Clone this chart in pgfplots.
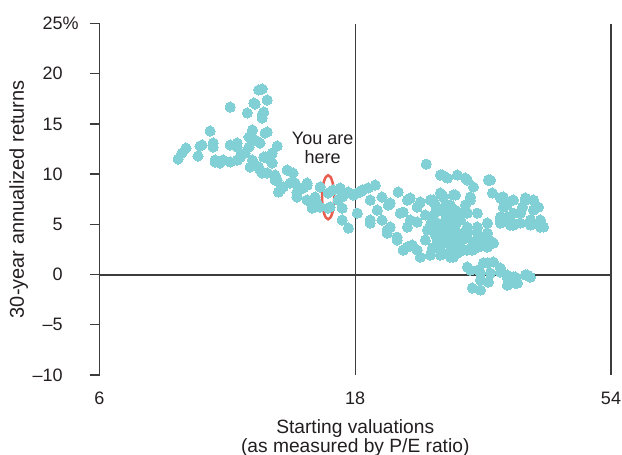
\documentclass[border=0pt]{standalone}
\usepackage{fontspec}
\setmainfont{Liberation Sans}
\usepackage{pgfplots}
\pgfplotsset{compat=1.18}
\definecolor{dotcol}{RGB}{128,208,214}
\definecolor{ringcol}{RGB}{232,94,80}
\definecolor{axiscol}{RGB}{60,60,60}
\definecolor{txtcol}{RGB}{35,31,32}
\newcommand\xlabfont{\fontsize{9.6}{9.1}\selectfont\lineskiplimit=-20pt\relax}

% P/E ratio vs 30-year annualized return (%)
\pgfplotstableread{
pe ret
8.41 11.50
8.55 12.10
8.70 12.60
9.16 11.80
9.24 12.80
9.32 12.90
9.65 14.29
9.78 12.70
9.78 13.10
9.86 11.21
9.86 11.40
10.07 11.11
10.21 11.40
10.52 16.68
10.52 12.90
10.52 11.21
10.84 12.70
10.84 13.10
10.84 11.40
10.98 11.70
11.22 12.10
11.32 16.09
11.40 12.70
11.40 13.70
11.57 14.39
11.46 10.71
11.64 17.08
11.57 11.40
11.71 16.98
11.71 13.40
11.89 18.38
12.07 18.48
11.89 10.71
11.96 13.10
11.96 10.41
12.07 15.89
12.07 15.59
12.15 16.18
12.07 10.11
12.15 11.70
12.22 14.09
12.22 11.70
12.33 17.38
12.33 14.19
12.33 10.11
12.49 11.40
12.49 11.70
12.60 12.10
12.60 11.11
12.76 9.41
12.76 9.91
12.87 12.80
12.87 9.41
12.95 8.22
13.04 8.42
13.21 8.72
13.44 10.41
13.61 9.11
13.78 10.11
13.90 9.11
14.02 8.22
14.02 7.72
14.39 8.62
14.64 8.91
14.64 7.42
14.64 9.11
14.96 6.62
15.15 7.72
15.28 7.12
15.48 8.72
15.48 6.72
16.02 8.12
16.02 6.62
16.16 6.72
16.37 8.42
16.73 7.42
16.87 8.42
16.87 8.62
17.02 7.72
17.02 6.62
17.02 5.43
17.39 8.12
17.47 8.22
17.47 4.63
17.85 7.92
18.16 8.12
18.16 6.12
18.39 8.22
18.56 8.42
19.04 8.62
19.20 7.42
19.20 5.43
19.20 5.13
19.62 8.91
19.79 6.42
20.19 7.72
20.19 5.43
20.65 4.43
20.65 4.13
20.74 6.92
20.92 7.12
20.92 4.73
21.55 3.73
21.55 3.44
21.65 8.22
21.84 6.12
22.12 6.22
22.12 2.44
22.51 7.42
22.51 4.73
22.51 2.74
22.80 7.62
22.80 5.43
23.00 2.94
23.49 6.72
23.49 5.23
23.49 2.44
23.80 7.22
23.80 1.74
24.42 11.00
24.53 4.43
24.85 7.42
24.85 1.94
25.17 7.42
25.61 5.13
25.61 3.44
25.61 4.73
25.61 2.74
25.94 9.91
25.94 6.42
25.94 8.12
25.94 1.94
26.17 9.91
26.17 7.92
26.17 3.73
26.28 7.72
26.28 2.14
26.74 9.61
26.74 4.13
26.74 3.14
27.08 5.73
27.08 2.24
27.08 1.74
27.44 7.92
27.44 4.13
27.44 1.74
27.67 7.92
27.91 9.91
27.91 4.13
27.91 2.14
28.27 6.12
28.27 5.43
28.27 2.44
28.63 4.13
28.63 2.44
28.88 9.61
29.13 9.41
29.13 6.12
29.13 4.73
29.13 4.43
29.13 3.73
29.13 2.44
29.13 0.75
29.51 7.72
29.51 7.42
29.51 0.45
29.76 -1.34
29.89 8.72
29.89 3.14
30.41 6.12
30.41 4.73
30.41 4.13
30.54 0.45
30.81 3.73
30.81 0.15
30.81 -0.55
30.81 -1.54
31.21 3.73
31.21 3.14
31.21 1.15
31.75 5.13
31.75 4.13
31.75 2.74
31.75 1.15
31.89 9.41
31.89 -0.75
32.16 9.41
32.16 0.15
32.44 8.12
32.44 3.24
32.58 3.14
32.58 1.25
33.57 7.62
33.57 5.73
33.57 5.43
33.57 5.13
33.57 0.65
33.57 0.25
34.00 6.72
34.00 7.72
34.58 6.92
34.58 5.73
34.58 -0.05
34.58 -0.25
34.58 -1.05
35.05 5.43
35.05 4.93
35.50 7.42
35.50 6.12
35.50 4.93
35.50 -0.25
35.81 -0.25
35.81 -0.85
36.12 -0.85
36.59 6.12
36.59 5.13
36.91 6.72
37.39 7.62
37.39 7.42
37.39 -0.05
37.71 -0.05
38.20 5.43
38.20 4.93
38.20 -0.25
38.70 7.42
38.70 6.42
39.53 6.72
39.87 5.43
39.87 5.23
39.87 4.73
40.39 4.73
25.39 6.92
24.32 5.93
24.85 4.93
26.51 6.92
27.08 6.92
27.67 6.42
26.51 5.43
27.67 4.93
26.51 4.63
25.39 6.22
25.00 5.63
28.50 3.44
29.76 2.44
30.54 2.74
25.39 3.93
24.32 3.44
28.88 6.92
27.67 3.14
26.51 6.22
27.32 5.23
28.03 5.93
26.85 3.44
28.03 2.94
25.94 2.94
25.06 2.64
}\pedata

\begin{document}
\begin{tikzpicture}
\useasboundingbox (-49.75pt,-40pt) rectangle (261.25pt,187.5pt);
\begin{axis}[
  scale only axis,
  width=255.75pt, height=175.75pt,
  xmode=log,
  xmin=6, xmax=54, ymin=-10, ymax=25,
  xtick={6,18,54}, xticklabels={6,18,54},
  minor xtick={}, xminorticks=false,
  ytick={-10,-5,...,25},
  yticklabels={\textendash10,\textendash5,0,5,10,15,20,25\rlap{\%}},
  axis y line*=left, axis x line*=bottom,
  x axis line style={draw=none},
  y axis line style={draw=axiscol, line width=0.65pt},
  xtick style={draw=none},
  ytick style={draw=axiscol, line width=0.65pt},
  tick align=outside, major tick length=5pt,
  xmajorgrids,
  major grid style={draw=axiscol, line width=0.65pt},
  ticklabel style={font=\fontsize{9}{10}\selectfont, text=txtcol},
  yticklabel style={anchor=east, inner xsep=0pt, xshift=-13.25pt},
  xticklabel style={anchor=north, inner ysep=0pt, yshift=-3.5pt},
  xlabel={Starting valuations\\(as measured by P/E ratio)},
  xlabel style={at={(axis description cs:0.5,0)}, anchor=north,
    align=center, inner sep=0pt, yshift=-22.3pt, text=txtcol,
    font=\xlabfont},
  ylabel={30-year annualized returns},
  ylabel style={at={(axis description cs:-0.1769,0.5)}, anchor=north,
    inner sep=0pt, text=txtcol, font=\fontsize{10}{11}\selectfont},
  clip=false,
]
\draw[axiscol, line width=1pt] (axis cs:6,0) -- (axis cs:54,0);
\addplot[dotcol, only marks, mark=*, mark size=2.55pt,
  mark options={draw=dotcol, fill=dotcol, line width=0pt}] table[x=pe, y=ret] {\pedata};
\draw[ringcol, line width=1.25pt] (axis cs:16.02,7.7) ellipse [x radius=3pt, y radius=11pt];
\node[anchor=north, align=center, inner sep=0pt, text=txtcol,
  font=\fontsize{9}{9.5}\selectfont] at (axis cs:15.65,14.19) {You are\\here};
\end{axis}
\end{tikzpicture}
\end{document}
